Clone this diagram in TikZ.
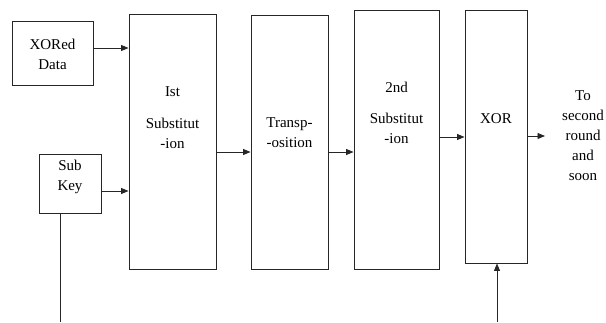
\documentclass[tikz,border=0pt]{standalone}
\usepackage{fontspec}
\setmainfont{Liberation Serif}
\usetikzlibrary{arrows.meta}
\begin{document}
\begin{tikzpicture}[x=1pt,y=-1pt,
  blk/.style={draw=black!85,line width=0.9pt,inner sep=0pt,rectangle},
  txt/.style={font=\fontsize{15}{20}\selectfont,text=black,align=center,inner sep=0pt},
  flow/.style={draw=black!85,line width=0.9pt,-{Triangle[length=7.5pt,width=6pt]}},
  wire/.style={draw=black!85,line width=0.9pt}]
\useasboundingbox (0,0) rectangle (606,322);
% blocks
\node[blk,minimum width=81pt,minimum height=64pt] (xd) at (52.5,53) {};
\node[blk,minimum width=62pt,minimum height=59pt] (sk) at (70,183.5) {};
\node[blk,minimum width=87pt,minimum height=255pt] (s1) at (172.5,141.5) {};
\node[blk,minimum width=77pt,minimum height=254pt] (tp) at (289.5,142) {};
\node[blk,minimum width=85pt,minimum height=259pt] (s2) at (396.5,139.5) {};
\node[blk,minimum width=62pt,minimum height=253pt] (xr) at (496,136.5) {};
% labels
\node[txt] (xdt) at (52.5,54) {XORed\\Data};
\node[txt] (skt) at (70,177) {Sub\\Key};
\node[txt] (s1a) at (172.5,92) {Ist};
\node[txt] (s1b) at (172.5,133) {Substitut\\-ion};
\node[txt] (tpt) at (289.5,133) {Transp-\\-osition};
\node[txt] (s2a) at (396.5,87) {2nd};
\node[txt] (s2b) at (396.5,128) {Substitut\\-ion};
\node[txt] (xrt) at (496,119) {XOR};
\node[txt] (out) at (583,136) {To\\second\\round\\and\\soon};
% connectors
\coordinate (keyin) at (60,322);
\coordinate (xorin) at (497,322);
\coordinate (outend) at (545,136);
\draw[flow] ([yshift=5pt]xd.east) -- ([yshift=5pt]xd.east -| s1.west);
\draw[flow] ([yshift=-7.5pt]sk.east) -- ([yshift=-7.5pt]sk.east -| s1.west);
\draw[wire] ([xshift=-10pt]sk.south) -- (keyin);
\draw[flow] ([yshift=-10.5pt]s1.east) -- ([yshift=-10.5pt]s1.east -| tp.west);
\draw[flow] ([yshift=-10pt]tp.east) -- ([yshift=-10pt]tp.east -| s2.west);
\draw[flow] ([yshift=2.5pt]s2.east) -- ([yshift=2.5pt]s2.east -| xr.west);
\draw[flow] (xr.east |- outend) -- (outend);
\draw[flow] (xorin) -- (xorin |- xr.south);
\end{tikzpicture}
\end{document}
